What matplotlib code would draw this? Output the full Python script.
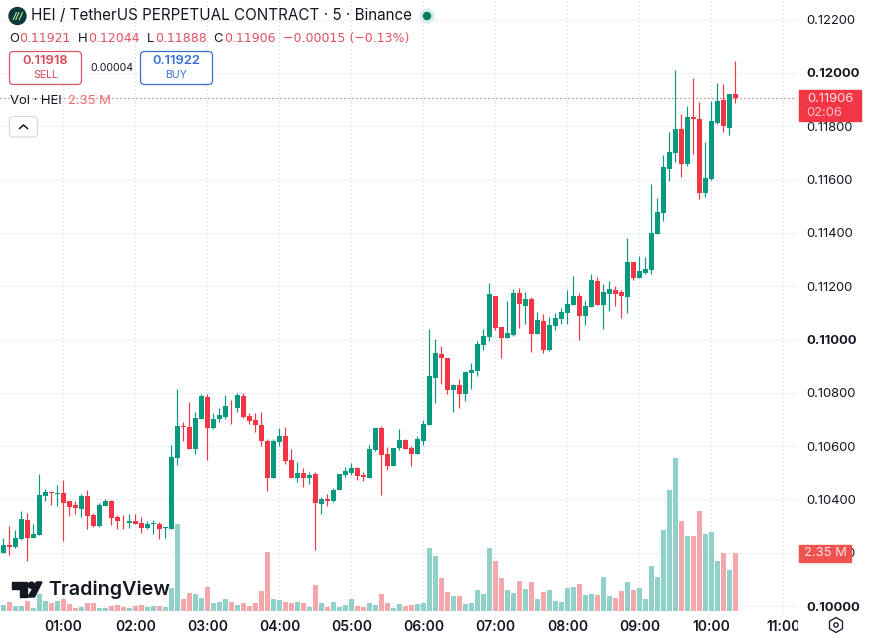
import numpy as np
import matplotlib
matplotlib.use('Agg')
from matplotlib import pyplot as plt
from matplotlib.patches import Circle, FancyBboxPatch, Polygon, Rectangle, RegularPolygon
from matplotlib.transforms import Bbox

plt.rcParams['font.family'] = ['Inter', 'DejaVu Sans']

# 5 minute candles, prices in units of 0.00001
opens = [10200, 10229, 10223, 10253, 10323, 10255, 10266, 10414, 10427, 10421,
         10423, 10394, 10379, 10365, 10413, 10341, 10300, 10376, 10394, 10334,
         10320, 10313, 10319, 10310, 10293, 10306, 10308, 10293, 10290, 10555,
         10674, 10672, 10588, 10703, 10784, 10668, 10702, 10709, 10752, 10743,
         10788, 10713, 10698, 10679, 10619, 10480, 10615, 10638, 10548, 10480,
         10499, 10480, 10495, 10383, 10400, 10394, 10435, 10491, 10499, 10518,
         10491, 10480, 10585, 10668, 10570, 10525, 10593, 10623, 10593, 10570,
         10619, 10679, 10855, 10945, 10930, 10810, 10829, 10795, 10874, 10882,
         10979, 11009, 11163, 11047, 11005, 11017, 11174, 11125, 11152, 11020,
         11069, 10960, 11050, 11077, 11099, 11129, 11163, 11088, 11122, 11219,
         11129, 11170, 11185, 11178, 11159, 11291, 11231, 11249, 11261, 11396,
         11474, 11639, 11700, 11790, 11658, 11835, 11827, 11549, 11602, 11812,
         11898, 11793, 11921]
highs = [10254, 10300, 10285, 10355, 10348, 10308, 10495, 10440, 10427, 10453,
         10473, 10394, 10395, 10419, 10435, 10348, 10385, 10403, 10398, 10341,
         10341, 10344, 10344, 10333, 10320, 10323, 10315, 10298, 10603, 10814,
         10689, 10765, 10728, 10795, 10795, 10723, 10742, 10792, 10773, 10798,
         10798, 10723, 10723, 10727, 10625, 10625, 10668, 10673, 10589, 10540,
         10518, 10503, 10501, 10409, 10420, 10443, 10495, 10521, 10536, 10521,
         10503, 10604, 10668, 10675, 10596, 10593, 10664, 10626, 10600, 10638,
         10698, 11039, 11002, 10975, 10930, 10833, 10852, 10882, 10912, 10994,
         11039, 11212, 11163, 11047, 11144, 11189, 11193, 11178, 11159, 11103,
         11095, 11084, 11099, 11118, 11186, 11238, 11174, 11144, 11246, 11234,
         11208, 11219, 11201, 11185, 11381, 11291, 11313, 11309, 11583, 11531,
         11692, 11778, 12011, 11846, 11876, 11981, 11891, 11741, 11895, 11962,
         11958, 11921, 12044]
lows = [10198, 10193, 10216, 10248, 10170, 10255, 10266, 10395, 10379, 10375,
        10245, 10338, 10345, 10335, 10290, 10298, 10298, 10375, 10305, 10290,
        10290, 10293, 10306, 10275, 10290, 10270, 10253, 10255, 10290, 10530,
        10620, 10590, 10570, 10700, 10548, 10663, 10692, 10700, 10683, 10728,
        10707, 10683, 10653, 10602, 10432, 10480, 10600, 10533, 10480, 10465,
        10446, 10458, 10210, 10345, 10375, 10390, 10435, 10484, 10491, 10473,
        10469, 10480, 10581, 10416, 10510, 10525, 10585, 10589, 10525, 10570,
        10604, 10679, 10762, 10833, 10795, 10728, 10743, 10769, 10814, 10863,
        10960, 10994, 11035, 10930, 11005, 11013, 11043, 11058, 10953, 11020,
        10949, 10957, 11035, 11058, 11058, 11129, 10998, 11054, 11122, 11129,
        11039, 11107, 11125, 11080, 11099, 11223, 11231, 11246, 11246, 11396,
        11444, 11594, 11666, 11609, 11651, 11696, 11527, 11534, 11598, 11808,
        11778, 11767, 11888]
closes = [10229, 10223, 10254, 10326, 10255, 10270, 10417, 10428, 10424, 10424,
          10388, 10373, 10368, 10413, 10339, 10300, 10379, 10394, 10331, 10318,
          10318, 10320, 10309, 10293, 10308, 10310, 10290, 10295, 10558, 10675,
          10672, 10590, 10705, 10788, 10668, 10702, 10717, 10750, 10749, 10792,
          10709, 10694, 10679, 10619, 10480, 10619, 10638, 10544, 10480, 10499,
          10480, 10491, 10386, 10401, 10395, 10435, 10495, 10506, 10518, 10488,
          10484, 10589, 10668, 10566, 10525, 10593, 10623, 10589, 10570, 10626,
          10683, 10863, 10949, 10930, 10810, 10829, 10795, 10878, 10885, 10983,
          11013, 11170, 11043, 11005, 11024, 11174, 11133, 11152, 11020, 11073,
          10960, 11054, 11080, 11103, 11133, 11163, 11088, 11125, 11223, 11129,
          11178, 11189, 11170, 11163, 11291, 11231, 11257, 11264, 11399, 11478,
          11647, 11703, 11790, 11658, 11835, 11828, 11549, 11606, 11820, 11895,
          11801, 11921, 11906]

# volume in millions
volumes = [.23, .35, .19, .19, .39, .11, .70, .39, .31, .39,
           .47, .27, .11, .16, .31, .31, .11, .11, .19, .23,
           .15, .11, .19, .23, .15, .19, .19, .15, .95, 3.51,
           .47, .72, .68, .51, .96, .31, .35, .47, .35, .23,
           .31, .19, .31, .80, 2.38, .47, .43, .35, .31, .36,
           .32, .16, 1.05, .32, .16, .36, .16, .24, .49, .20,
           .16, .32, .24, .69, .32, .12, .28, .20, .24, .28,
           .32, 2.55, 2.23, 1.34, .77, .61, .61, .28, .32, .85,
           .69, 2.55, 2.03, 1.34, .85, .73, 1.22, .89, 1.17, .49,
           .77, .85, .41, .36, .93, .97, 1.09, .65, .69, .65,
           1.38, .61, .53, .81, 1.17, .85, .93, .49, 1.82, 1.38,
           3.28, 4.90, 6.20, 3.65, 3.04, 3.04, 4.05, 3.12, 3.20, 2.03,
           2.35, 1.66, 2.35]

hour_positions = [10, 22, 34, 46, 58, 70, 82, 94, 106, 118, 130]
hour_labels = ['01:00', '02:00', '03:00', '04:00', '05:00', '06:00',
               '07:00', '08:00', '09:00', '10:00', '11:00']
price_ticks = [0.100, 0.102, 0.104, 0.106, 0.108, 0.110, 0.112, 0.114,
               0.116, 0.118, 0.120, 0.122]

GREEN = '#089981'
RED = '#F23645'
INK = '#131722'
GRID = '#c6c9d0'

o = np.array(opens) / 1e5
h = np.array(highs) / 1e5
l = np.array(lows) / 1e5
c = np.array(closes) / 1e5
vol = np.array(volumes)
x = np.arange(len(o))
up = c >= o

fig = plt.figure(figsize=(8.74, 6.39), dpi=100)
ax = fig.add_axes([0, 25 / 639, 797 / 874, 614 / 639])

# volume pane shares the time axis, baseline sits just above the pane bottom
ax_vol = ax.twinx()
ax_vol.set_ylim(-0.1215, 24.75)
ax_vol.axis('off')
ax_vol.bar(x[up], vol[up], width=0.8, color='#92D1C9')
ax_vol.bar(x[~up], vol[~up], width=0.8, color='#F5A8AC')

# 6 px per candle, centres land in the middle of a pixel
ax.set_xlim(-0.5833, 132.25)
ax.set_ylim(0.09970, 0.122739)
for s in ax.spines.values():
    s.set_visible(False)
ax.grid(True, color=GRID, linewidth=0.72, linestyle=(0, (1, 3)))
ax.set_axisbelow(True)

# candles: wicks first, bodies on top
ax.vlines(x[up], l[up], h[up], color=GREEN, linewidth=0.85, zorder=2)
ax.vlines(x[~up], l[~up], h[~up], color=RED, linewidth=0.85, zorder=2)
ax.bar(x[up], (c - o)[up], bottom=o[up], width=0.8, color=GREEN, zorder=3)
ax.bar(x[~up], (o - c)[~up], bottom=c[~up], width=0.8, color=RED, zorder=3)
ax.axhline(c[-1], color='#C0304A', linewidth=0.72, linestyle=(0, (1, 3)), zorder=1)

# twinx moved the price labels to the left, bring them back
ax.yaxis.tick_right()
ax.set_yticks(price_ticks)
ax.set_yticklabels(['%.5f' % t for t in price_ticks])
ax.tick_params(axis='y', length=0, pad=6.5, labelsize=9.4, labelcolor=INK)
for t, lab in zip(price_ticks, ax.get_yticklabels()):
    if round(t * 1000) % 10 == 0:
        lab.set_fontweight('bold')
ax.set_xticks(hour_positions)
ax.set_xticklabels(hour_labels)
ax.tick_params(axis='x', length=0, pad=4, labelsize=10, labelcolor=INK)
for lab in ax.get_xticklabels():
    lab.set_fontweight(600)
    lab.set_clip_box(Bbox([[0, 0], [798, 639]]))
    lab.set_clip_on(True)

# header, tags and watermark live on a pixel-sized overlay
ui = fig.add_axes([0, 0, 1, 1])
ui.set_xlim(0, 874)
ui.set_ylim(639, 0)
ui.axis('off')
ui.patch.set_visible(False)


def label(px, py, s, size=9.4, color=INK, ha='left', weight='normal', family=None):
    ui.text(px, py, s, fontsize=size, color=color, ha=ha, va='center',
            fontweight=weight, family=family or ['Inter', 'DejaVu Sans'])


def rounded(x0, y0, w, hh, edge, face='white', lw=0.9):
    ui.add_patch(FancyBboxPatch((x0, y0), w, hh, boxstyle='round,pad=0,rounding_size=4',
                                ec=edge, fc=face, lw=lw))


# symbol badge and title
ui.add_patch(Circle((17.5, 16), 8.5, color='#0e3b3a'))
ui.text(17.5, 16, '///', fontsize=6.5, color='#b7f0a0', ha='center', va='center',
        fontweight='bold', style='italic')
label(31, 16, 'HEI / TetherUS PERPETUAL CONTRACT · 5 · Binance', size=10.97)
ui.add_patch(Circle((427, 16), 7, color='#d5efe9'))
ui.add_patch(Circle((427, 16), 3.5, color='#0b7a66'))

# OHLC line, digits are fixed width here
SOFT_RED = '#E2505F'
for px, letter in [(9, 'O'), (78, 'H'), (147, 'L'), (213, 'C')]:
    label(px, 38.5, letter)
for px, s in [(19.5, '%.5f' % o[-1]), (88, '%.5f' % h[-1]), (155, '%.5f' % l[-1]),
              (224, '%.5f' % c[-1])]:
    label(px, 38.5, s, size=9, color=SOFT_RED, family='DejaVu Sans')
label(283, 38.5, '\u22120.00015 (\u22120.13%)', size=9, color=SOFT_RED, family='DejaVu Sans')

# sell / buy buttons
BLUE = '#3A6FD8'
rounded(9.5, 51.5, 72, 33, '#DC5564')
ui.text(45.5, 60.5, '0.11918', fontsize=9.4, color='#DC4656', ha='center', va='center', fontweight=600)
ui.text(45.5, 75, 'SELL', fontsize=7.6, color='#DC4656', ha='center', va='center')
label(90.5, 68, '0.00004', size=7.6)
rounded(140.5, 51.5, 72, 33, BLUE)
ui.text(176.5, 60.5, '0.11922', fontsize=9.4, color=BLUE, ha='center', va='center', fontweight=600)
ui.text(176.5, 75, 'BUY', fontsize=7.6, color=BLUE, ha='center', va='center')

# volume legend and collapse button
label(10, 101.5, 'Vol · HEI')
label(68, 101.5, '%.2f M' % vol[-1], color='#EE6B6B')
rounded(9.5, 116.5, 28, 20.5, '#d9dbe0')
ui.plot([19.5, 23.5, 27.5], [128.5, 125, 128.5], color=INK, lw=1.1)

# last price and volume tags
ui.add_patch(Rectangle((799, 90), 62, 30.7, color=RED, zorder=3))
ui.text(830, 98.5, '%.5f' % c[-1], fontsize=9.4, color='#fde3e5', ha='center', va='center', zorder=4)
ui.text(824, 112.5, '02:06', fontsize=9.4, color='#fbc0c5', ha='center', va='center', zorder=4)
ui.add_patch(Rectangle((799, 545), 51.7, 16.7, color='#EF5350', zorder=3))
ui.text(825, 553.5, '%.2f M' % vol[-1], fontsize=9.4, color='#fde3e5', ha='center', va='center', zorder=4)

# TradingView watermark
ui.add_patch(Polygon([(12, 582), (27, 582), (27, 597), (19.5, 597), (19.5, 588.5), (12, 588.5)], color=INK, zorder=5))
ui.add_patch(Circle((31.5, 585.2), 3.1, color=INK, zorder=5))
ui.add_patch(Polygon([(36.5, 582), (42, 582), (34.5, 597), (28, 597)], color=INK, zorder=5))
ui.text(48, 589.5, 'TradingView', fontsize=14.2, color=INK, ha='left', va='center',
        fontweight=600, zorder=5)

# settings icon
ui.add_patch(RegularPolygon((836, 625), 6, radius=7.5, orientation=np.pi,
                            fc='none', ec=INK, lw=0.9))
ui.add_patch(Circle((836, 625), 2.2, fc='none', ec=INK, lw=0.9))

fig.savefig('out.png', dpi=100)
